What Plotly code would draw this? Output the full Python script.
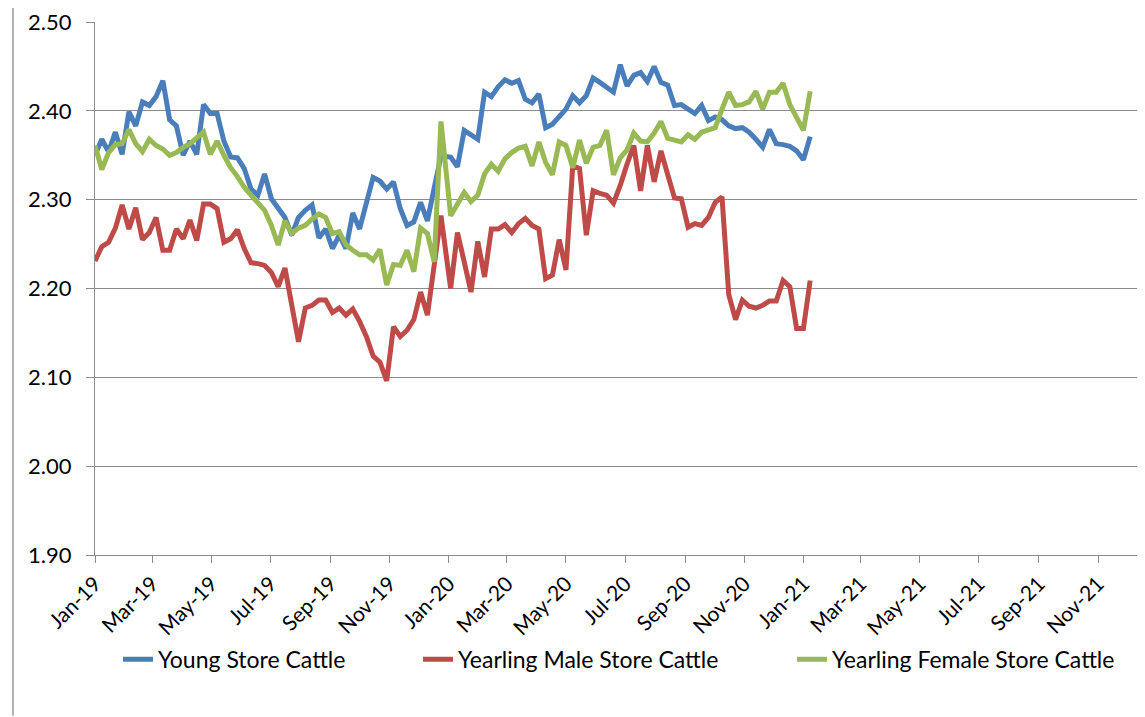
import pandas as pd
import plotly.graph_objects as go

# weekly price points (the 2019 run, then the 2020-21 run after the holiday break)
dates_2019 = pd.date_range("2019-01-01", periods=52, freq="7D")
dates_2020 = pd.date_range("2020-01-03", periods=54, freq="7D")
dates = list(dates_2019) + list(dates_2020)

young_store = [
    2.350, 2.368, 2.354, 2.376, 2.351, 2.399, 2.383, 2.410, 2.406, 2.416,
    2.434, 2.390, 2.383, 2.350, 2.366, 2.351, 2.407, 2.397, 2.397, 2.366,
    2.348, 2.347, 2.335, 2.312, 2.305, 2.329, 2.301, 2.290, 2.280, 2.260,
    2.280, 2.288, 2.294, 2.257, 2.267, 2.245, 2.260, 2.245, 2.285, 2.267,
    2.297, 2.325, 2.321, 2.312, 2.320, 2.290, 2.271, 2.275, 2.297, 2.276,
    2.313, 2.349, 2.348, 2.337, 2.378, 2.373, 2.368, 2.421, 2.416, 2.427,
    2.435, 2.431, 2.434, 2.413, 2.409, 2.419, 2.381, 2.385, 2.393, 2.402,
    2.417, 2.409, 2.417, 2.437, 2.432, 2.427, 2.421, 2.452, 2.428, 2.440,
    2.443, 2.433, 2.450, 2.432, 2.429, 2.406, 2.407, 2.402, 2.397, 2.406,
    2.389, 2.393, 2.390, 2.383, 2.380, 2.381, 2.376, 2.368, 2.359, 2.379,
    2.363, 2.362, 2.360, 2.355, 2.345, 2.371,
]

yearling_male = [
    2.231, 2.247, 2.252, 2.268, 2.294, 2.267, 2.291, 2.255, 2.263, 2.280,
    2.243, 2.243, 2.267, 2.256, 2.277, 2.254, 2.295, 2.295, 2.290, 2.252,
    2.256, 2.266, 2.245, 2.229, 2.228, 2.226, 2.218, 2.202, 2.223, 2.185,
    2.140, 2.178, 2.181, 2.187, 2.187, 2.173, 2.178, 2.170, 2.177, 2.163,
    2.146, 2.124, 2.117, 2.096, 2.157, 2.146, 2.153, 2.165, 2.196, 2.170,
    2.230, 2.282, 2.200, 2.263, 2.230, 2.196, 2.253, 2.213, 2.267, 2.267,
    2.272, 2.263, 2.273, 2.279, 2.271, 2.267, 2.211, 2.215, 2.255, 2.221,
    2.338, 2.335, 2.260, 2.310, 2.307, 2.305, 2.296, 2.316, 2.340, 2.361,
    2.310, 2.361, 2.320, 2.355, 2.328, 2.302, 2.301, 2.269, 2.273, 2.271,
    2.280, 2.297, 2.303, 2.193, 2.165, 2.187, 2.180, 2.178, 2.181, 2.186,
    2.186, 2.209, 2.202, 2.155, 2.155, 2.209,
]

yearling_female = [
    2.361, 2.334, 2.353, 2.362, 2.363, 2.379, 2.363, 2.354, 2.368, 2.361,
    2.357, 2.350, 2.353, 2.359, 2.363, 2.370, 2.376, 2.351, 2.366, 2.350,
    2.336, 2.326, 2.314, 2.305, 2.297, 2.288, 2.271, 2.249, 2.276, 2.262,
    2.268, 2.271, 2.278, 2.284, 2.280, 2.262, 2.264, 2.249, 2.243, 2.238,
    2.238, 2.232, 2.244, 2.204, 2.227, 2.226, 2.243, 2.219, 2.268, 2.262,
    2.230, 2.388, 2.282, 2.294, 2.308, 2.298, 2.305, 2.329, 2.340, 2.332,
    2.346, 2.353, 2.358, 2.360, 2.338, 2.365, 2.342, 2.328, 2.365, 2.361,
    2.336, 2.367, 2.341, 2.359, 2.361, 2.378, 2.328, 2.347, 2.356, 2.375,
    2.366, 2.365, 2.375, 2.388, 2.369, 2.367, 2.365, 2.373, 2.368, 2.376,
    2.378, 2.381, 2.402, 2.421, 2.406, 2.407, 2.410, 2.422, 2.402, 2.421,
    2.421, 2.431, 2.407, 2.391, 2.378, 2.422,
]

series_names = ["Young Store Cattle", "Yearling Male Store Cattle", "Yearling Female Store Cattle"]
series_colors = ["#4A7EBB", "#BE4B48", "#98B954"]

x_tick_dates = pd.date_range("2019-01-01", "2021-11-01", freq="2MS")
y_ticks = [1.9, 2.0, 2.1, 2.2, 2.3, 2.4, 2.5]

FONT = "Lato, 'Liberation Sans', sans-serif"
GRID = "#8C8C8C"

# the page body adds an 8px margin, so the figure is sized/positioned 8px in
W, H = 1137, 709
PLOT_L, PLOT_R, PLOT_T, PLOT_B = 87, 1137, 10, 547


def px_to_paper_x(px):
    return (px - PLOT_L) / (PLOT_R - PLOT_L)


def px_to_paper_y(py):
    return (PLOT_B - py) / (PLOT_B - PLOT_T)


fig = go.Figure()
legend_ids = ["legend", "legend2", "legend3"]
for name, color, values, leg in zip(series_names, series_colors,
                                    [young_store, yearling_male, yearling_female], legend_ids):
    fig.add_trace(
        go.Scatter(
            x=dates,
            y=values,
            mode="lines",
            name=name,
            legend=leg,
            line=dict(color=color, width=5),
            hovertemplate="%{x|%d %b %Y}<br>%{y:.3f}<extra>" + name + "</extra>",
        )
    )

# one legend box per entry so each sits where the original placed it
legend_left_px = [110, 410, 784]
legend_common = dict(
    orientation="h",
    yanchor="middle",
    xanchor="left",
    y=px_to_paper_y(652),
    font=dict(family=FONT, size=23, color="#000000"),
    bgcolor="rgba(0,0,0,0)",
    itemwidth=30,
)

fig.update_layout(
    width=W,
    height=H,
    margin=dict(l=PLOT_L, r=W - PLOT_R, t=PLOT_T, b=H - PLOT_B),
    paper_bgcolor="white",
    plot_bgcolor="white",
    font=dict(family=FONT, size=21, color="#000000"),
    xaxis=dict(
        type="date",
        range=["2019-01-01", "2021-12-19 12:00"],
        tickmode="array",
        tickvals=list(x_tick_dates),
        tickformat="%b-%y",
        tickangle=-45,
        ticks="outside",
        ticklen=7,
        tickcolor=GRID,
        showline=True,
        linecolor=GRID,
        linewidth=1.3,
        showgrid=False,
        zeroline=False,
        ticklabeloverflow="allow",
        tickfont=dict(family=FONT, size=21),
    ),
    yaxis=dict(
        range=[1.9, 2.5],
        tickmode="array",
        tickvals=y_ticks,
        tickformat=".2f",
        ticks="outside",
        ticklen=8,
        tickcolor=GRID,
        ticklabelstandoff=10,
        ticklabeloverflow="allow",
        showline=True,
        linecolor=GRID,
        linewidth=1.3,
        showgrid=True,
        gridcolor=GRID,
        gridwidth=1.3,
        zeroline=False,
        tickfont=dict(family=FONT, size=22),
    ),
    legend=dict(x=px_to_paper_x(legend_left_px[0]), **legend_common),
    legend2=dict(x=px_to_paper_x(legend_left_px[1]), **legend_common),
    legend3=dict(x=px_to_paper_x(legend_left_px[2]), **legend_common),
    showlegend=True,
)

# left edge of the chart frame
fig.add_shape(
    type="line",
    xref="paper",
    yref="paper",
    x0=px_to_paper_x(5),
    x1=px_to_paper_x(5),
    y0=px_to_paper_y(H),
    y1=px_to_paper_y(-8),
    line=dict(color=GRID, width=1.3),
)

fig.write_html("out.html")
